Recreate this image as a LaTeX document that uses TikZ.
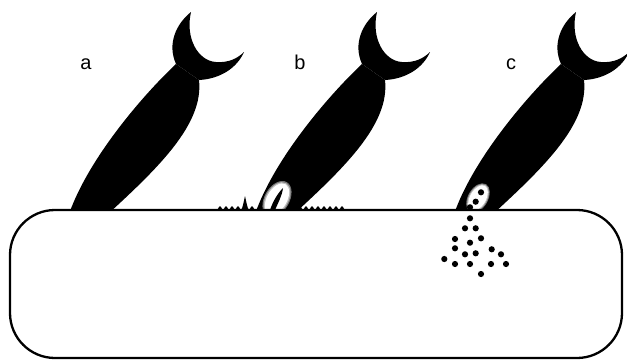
\documentclass[tikz,border=0pt]{standalone}
\usepackage{fontspec}
\setmainfont{Liberation Sans}
\begin{document}
\begin{tikzpicture}[x=1pt,y=-1pt,
  tankline/.style={line width=2.3pt, rounded corners=45pt, fill=white},
  lbl/.style={font=\fontsize{20}{24}\selectfont, inner sep=0pt, anchor=base},
  pellet/.style={fill=black},
  pics/diver/.style={code={
    % tail fin
    \fill (176,64) .. controls (167,44) and (176,24) .. (191,12)
      .. controls (185,38) and (198,61) .. (216,62)
      .. controls (229,63) and (238,58) .. (244,52)
      .. controls (237,68) and (220,79) .. (199,80) -- cycle;
    % body, running down below the surface
    \fill (176,64) .. controls (140,98) and (88,160) .. (69,214)
      -- (108,214) .. controls (158,168) and (204,124) .. (199,80) -- cycle;
  }}]
\useasboundingbox (0,0) rectangle (627,362);

% three divers
\pic at (0,0) {diver};
\pic at (186,0) {diver};
\pic at (385,0) {diver};

% open mouth of diver b, with a soft rim
\begin{scope}[rotate around={60:(277,199)}]
  \fill[black!55] (277,199) ellipse [x radius=19.5pt, y radius=12.5pt];
  \fill[black!25] (277,199) ellipse [x radius=18.3pt, y radius=11.3pt];
  \fill[white] (277,199) ellipse [x radius=17pt, y radius=10pt];
\end{scope}
% prey inside the mouth
\fill (270,210) .. controls (273,201) and (278,193) .. (283,188)
  .. controls (282,196) and (278,203) .. (275,210) -- cycle;

% open mouth of diver c
\begin{scope}[rotate around={60:(478,198)}]
  \fill[black!55] (478,198) ellipse [x radius=16pt, y radius=10pt];
  \fill[black!25] (478,198) ellipse [x radius=15pt, y radius=9pt];
  \fill[white] (478,198) ellipse [x radius=14pt, y radius=8pt];
\end{scope}

% tank
\draw[tankline] (10,210) rectangle (622,358);

% splash around diver b
\fill (217,210.5)
  \foreach \s in {0,6,12,18} {
    .. controls (217+\s+1.5,208) and (217+\s+2,206.5) .. (217+\s+3,206)
    .. controls (217+\s+4,206.5) and (217+\s+4.5,208) .. (217+\s+6,210.5)}
  .. controls (243,207) and (244,200) .. (245,196)
  .. controls (246,200) and (247,207) .. (249,210.5)
  .. controls (250.5,208) and (251,206.5) .. (252,206)
  .. controls (253,206.5) and (253.5,208) .. (255,210.5) -- cycle;
\fill (297,210.5)
  \foreach \s in {0,6,12,18,24,30,36,42} {
    .. controls (297+\s+1.5,208) and (297+\s+2,206.5) .. (297+\s+3,206)
    .. controls (297+\s+4,206.5) and (297+\s+4.5,208) .. (297+\s+6,210.5)}
  -- cycle;

% pellets spilling from diver c
\foreach \px/\py in {481/192.3, 475.7/201.7, 470/207.3, 470/218.3, 465/228.3,
    475.7/228.3, 455/239, 470/242.7, 481/238.3, 455/248.3, 491.7/249.3,
    465/254.3, 475.7/253.3, 501/254.3, 444.3/259, 455/264, 470/264,
    491/264, 506/264, 481/274}
  \fill[pellet] (\px,\py) circle [radius=3.1pt];

% labels
\node[lbl] (la) at (86,69) {a};
\node[lbl] (lb) at (300,69) {b};
\node[lbl] (lc) at (511,69) {c};
\end{tikzpicture}
\end{document}
